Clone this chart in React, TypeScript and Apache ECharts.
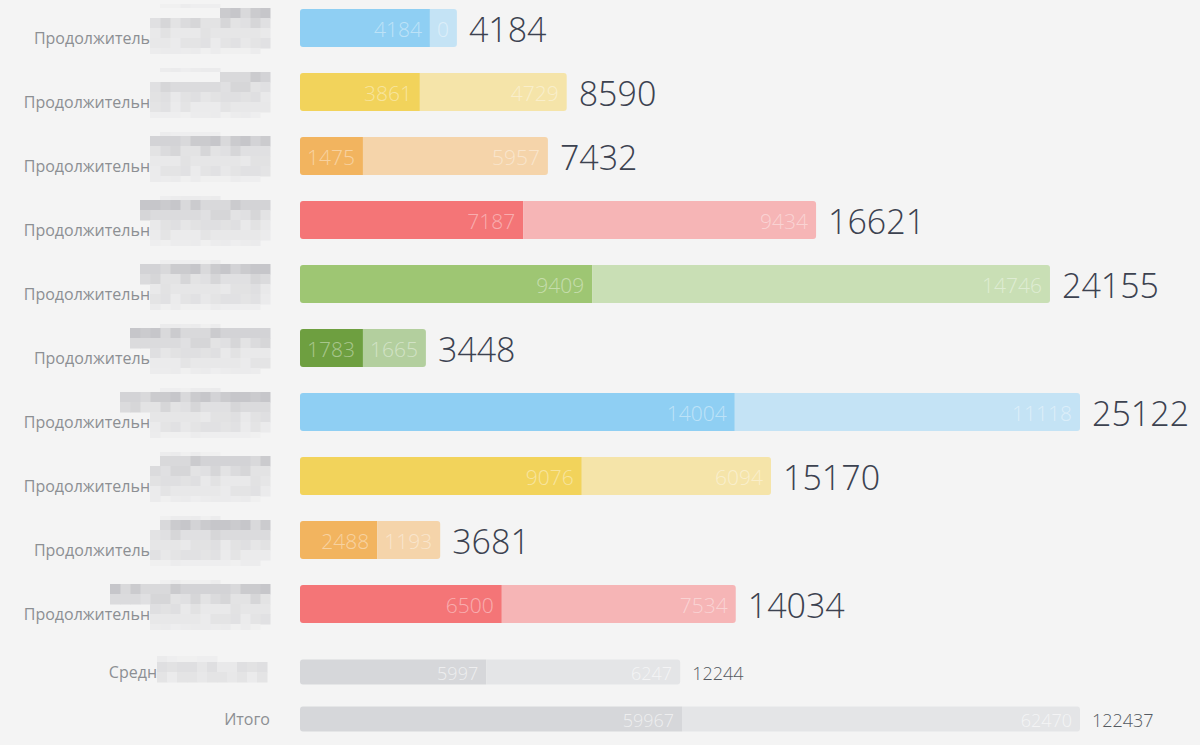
import React, { useEffect, useRef } from "react";
import * as echarts from "echarts";

// ---- data ----
const CATEGORIES = [
  "Продолжитель",
  "Продолжительн",
  "Продолжительн",
  "Продолжительн",
  "Продолжительн",
  "Продолжитель",
  "Продолжительн",
  "Продолжительн",
  "Продолжитель",
  "Продолжительн",
];
const FIRST = [4184, 3861, 1475, 7187, 9409, 1783, 14004, 9076, 2488, 6500];
const SECOND = [0, 4729, 5957, 9434, 14746, 1665, 11118, 6094, 1193, 7534];
const TOTALS = [4184, 8590, 7432, 16621, 24155, 3448, 25122, 15170, 3681, 14034];

const AVG_LABEL = ["Средн"];
const AVG_FIRST = [5997];
const AVG_SECOND = [6247];
const AVG_TOTAL = [12244];

const SUM_LABEL = ["Итого"];
const SUM_FIRST = [59967];
const SUM_SECOND = [62470];
const SUM_TOTAL = [122437];

// ---- styles ----
const DARK = ["#8fcff3", "#f2d35b", "#f2b45f", "#f47577", "#9ec673", "#6e9f40", "#8fcff3", "#f2d35b", "#f2b45f", "#f47577"];
const LIGHT = ["#c4e3f5", "#f5e4a9", "#f5d4aa", "#f6b5b6", "#c9dfb5", "#b3cf9e", "#c4e3f5", "#f5e4a9", "#f5d4aa", "#f6b5b6"];
const GRAY_DARK = ["#d6d7da"];
const GRAY_LIGHT = ["#e4e5e7"];
const FONT = '"Open Sans Light", "Open Sans", "Noto Sans", sans-serif';
const LABEL_FONT = '"Open Sans", "Noto Sans", sans-serif';
const BG = "#f4f4f4";

// decorative pixelated (blurred) label parts: page x where the upper band starts, per row
const BLUR_TOP_START = [218, 217, 148, 138, 142, 127, 122, 160, 160, 110];
const SHADE_SEQ = [0, 2, 1, 3, 1, 0, 2, 3, 1, 2, 0, 1, 3, 2, 0, 1, 2, 1, 3, 0, 2, 3, 0, 1];
const BANDS = [
  ["#d3d3d6", "#cbcbce", "#d9d9db", "#c6c6ca"],
  ["#dbdbdd", "#d6d6d8", "#e0e0e2", "#e3e3e4"],
  ["#e6e6e7", "#e2e2e3", "#e9e9ea", "#dfdfe1"],
  ["#e8e8e9", "#e4e4e5", "#ebebec", "#e1e1e3"],
  ["#eeeeef", "#ececed", "#f0f0f0", "#ebebec"],
];

let ctx: CanvasRenderingContext2D | null = null;
function measure(text: string, size: number): number {
  if (!ctx) ctx = document.createElement("canvas").getContext("2d");
  if (!ctx) return text.length * size * 0.55;
  ctx.font = `${size}px "Open Sans Light", "Open Sans"`;
  return ctx.measureText(text).width;
}

type Cfg = {
  dark: string[];
  light: string[];
  barH: number;
  inner: number;
  innerFill: string;
  totalSize: number;
  totalColor: string;
};

function renderBars(cfg: Cfg) {
  return (params: any, api: any) => {
    const i = api.value(0);
    const v1 = api.value(1);
    const v2 = api.value(2);
    const tot = api.value(3);
    const o = api.coord([0, i]);
    const a = api.coord([v1, i]);
    const b = api.coord([v1 + v2, i]);
    const cy = o[1];
    const h = cfg.barH;
    const pad = 15;
    const w1 = Math.max(a[0] - o[0], measure(String(v1), cfg.inner) + pad);
    const w2 = Math.max(b[0] - a[0], measure(String(v2), cfg.inner) + pad);
    const x1 = o[0] + w1;
    const x2 = x1 + w2;
    const txt = (text: string, x: number, size: number, fill: string, align: string) => ({
      type: "text",
      style: {
        text,
        x,
        y: cy + 1,
        align,
        verticalAlign: "middle",
        fontSize: size,
        fontFamily: FONT,
        fontWeight: 300,
        fill,
      },
    });
    return {
      type: "group",
      children: [
        { type: "rect", shape: { x: o[0], y: cy - h / 2, width: w1, height: h, r: [3, 0, 0, 3] }, style: { fill: cfg.dark[i] } },
        { type: "rect", shape: { x: x1, y: cy - h / 2, width: w2, height: h, r: [0, 3, 3, 0] }, style: { fill: cfg.light[i] } },
        txt(String(v1), x1 - 8, cfg.inner, cfg.innerFill, "right"),
        txt(String(v2), x2 - 8, cfg.inner, cfg.innerFill, "right"),
        txt(String(tot), x2 + 12, cfg.totalSize, cfg.totalColor, "left"),
      ],
    };
  };
}

function renderBlur(small: boolean) {
  return (params: any, api: any) => {
    const i = api.value(0);
    const o = api.coord([0, i]);
    const cy = o[1];
    const children: any[] = [];
    const cell = 10;
    if (small) {
      const x0 = o[0] - 143;
      const cols = 11;
      const rows = [
        { y: cy - 16, band: 4, start: 0, end: 6 },
        { y: cy - 10, band: 2, start: 0, end: cols },
        { y: cy, band: 3, start: 0, end: cols },
      ];
      rows.forEach((r, ri) => {
        for (let c = r.start; c < r.end; c++) {
          const s = SHADE_SEQ[(c * 3 + ri * 5 + 7) % SHADE_SEQ.length];
          children.push({ type: "rect", shape: { x: x0 + c * cell, y: r.y, width: cell + 0.5, height: ri === 0 ? 6 : cell + 0.5 }, style: { fill: BANDS[r.band][s] } });
        }
      });
      return { type: "group", children };
    }
    const right = o[0] - 30;
    const left = o[0] - 150;
    const topStart = o[0] - 300 + BLUR_TOP_START[i];
    const bands = [
      { y: cy - 24, band: 4, from: left + 10, to: left + 70 },
      { y: cy - 20, band: 0, from: topStart, to: right },
      { y: cy - 10, band: 1, from: Math.min(topStart, left), to: right },
      { y: cy, band: 2, from: left, to: right },
      { y: cy + 10, band: 3, from: left, to: right },
      { y: cy + 20, band: 4, from: left, to: right - 10 },
    ];
    bands.forEach((bd, bi) => {
      const n = Math.round((bd.to - bd.from) / cell);
      for (let c = 0; c < n; c++) {
        const s = SHADE_SEQ[(c * 5 + bi * 3 + i * 7) % SHADE_SEQ.length];
        children.push({
          type: "rect",
          shape: { x: bd.to - (c + 1) * cell, y: bd.y, width: cell + 0.5, height: bi === 0 ? 4 : bi === 5 ? 6 : cell + 0.5 },
          style: { fill: BANDS[bd.band][s] },
        });
      }
    });
    return { type: "group", children };
  };
}

const MAIN_MAX = Math.max(...TOTALS);
const SUM_MAX = Math.max(...SUM_TOTAL);

export default function App() {
  const ref = useRef<HTMLDivElement>(null);
  useEffect(() => {
    if (!ref.current) return;
    const chart = echarts.init(ref.current, undefined, { renderer: "svg" });

    const mainCfg: Cfg = { dark: DARK, light: LIGHT, barH: 38, inner: 21, innerFill: "rgba(255,255,255,0.42)", totalSize: 34, totalColor: "#3c4250" };
    const avgCfg: Cfg = { dark: GRAY_DARK, light: GRAY_LIGHT, barH: 25, inner: 18, innerFill: "rgba(255,255,255,0.6)", totalSize: 18, totalColor: "#555a61" };

    const catAxis = (gridIndex: number, data: string[], margin: number, twoLines: boolean) => ({
      type: "category",
      gridIndex,
      data,
      inverse: true,
      axisLine: { show: false },
      axisTick: { show: false },
      splitLine: { show: false },
      axisLabel: {
        margin,
        color: "#8c8f93",
        fontSize: 16,
        fontFamily: LABEL_FONT,
        fontWeight: 400,
        lineHeight: 20,
        formatter: (v: string) => (twoLines ? "\n" + v : v),
      },
    });
    const valAxis = (gridIndex: number, max: number) => ({
      type: "value",
      gridIndex,
      min: 0,
      max,
      show: false,
      splitLine: { show: false },
    });

    chart.setOption({
      animation: false,
      backgroundColor: BG,
      grid: [
        { left: 300, width: 780, top: 0, height: 640 },
        { left: 300, width: 780, top: 652, height: 48 },
        { left: 300, width: 780, top: 699, height: 48 },
      ],
      xAxis: [valAxis(0, MAIN_MAX), valAxis(1, MAIN_MAX), valAxis(2, SUM_MAX)],
      yAxis: [
        catAxis(0, CATEGORIES, 150, true),
        catAxis(1, AVG_LABEL, 143, false),
        catAxis(2, SUM_LABEL, 30, false),
      ],
      series: [
        {
          type: "custom",
          xAxisIndex: 0,
          yAxisIndex: 0,
          renderItem: renderBlur(false),
          data: CATEGORIES.map((_, i) => [i, 0, 0, 0]),
          encode: { y: 0, x: 1 },
          silent: true,
        },
        {
          type: "custom",
          xAxisIndex: 1,
          yAxisIndex: 1,
          renderItem: renderBlur(true),
          data: AVG_LABEL.map((_, i) => [i, 0, 0, 0]),
          encode: { y: 0, x: 1 },
          silent: true,
        },
        {
          type: "custom",
          xAxisIndex: 0,
          yAxisIndex: 0,
          renderItem: renderBars(mainCfg),
          data: FIRST.map((v, i) => [i, v, SECOND[i], TOTALS[i]]),
          encode: { y: 0, x: [1, 2, 3] },
        },
        {
          type: "custom",
          xAxisIndex: 1,
          yAxisIndex: 1,
          renderItem: renderBars(avgCfg),
          data: AVG_FIRST.map((v, i) => [i, v, AVG_SECOND[i], AVG_TOTAL[i]]),
          encode: { y: 0, x: [1, 2, 3] },
        },
        {
          type: "custom",
          xAxisIndex: 2,
          yAxisIndex: 2,
          renderItem: renderBars(avgCfg),
          data: SUM_FIRST.map((v, i) => [i, v, SUM_SECOND[i], SUM_TOTAL[i]]),
          encode: { y: 0, x: [1, 2, 3] },
        },
      ],
    });
    return () => chart.dispose();
  }, []);

  return (
    <div style={{ position: "fixed", left: 0, top: 0, width: 1200, height: 745, background: BG, overflow: "hidden" }}>
      <div
        ref={ref}
        style={{ position: "absolute", left: 0, top: -4, width: 1200, height: 749 }}
      />
    </div>
  );
}
